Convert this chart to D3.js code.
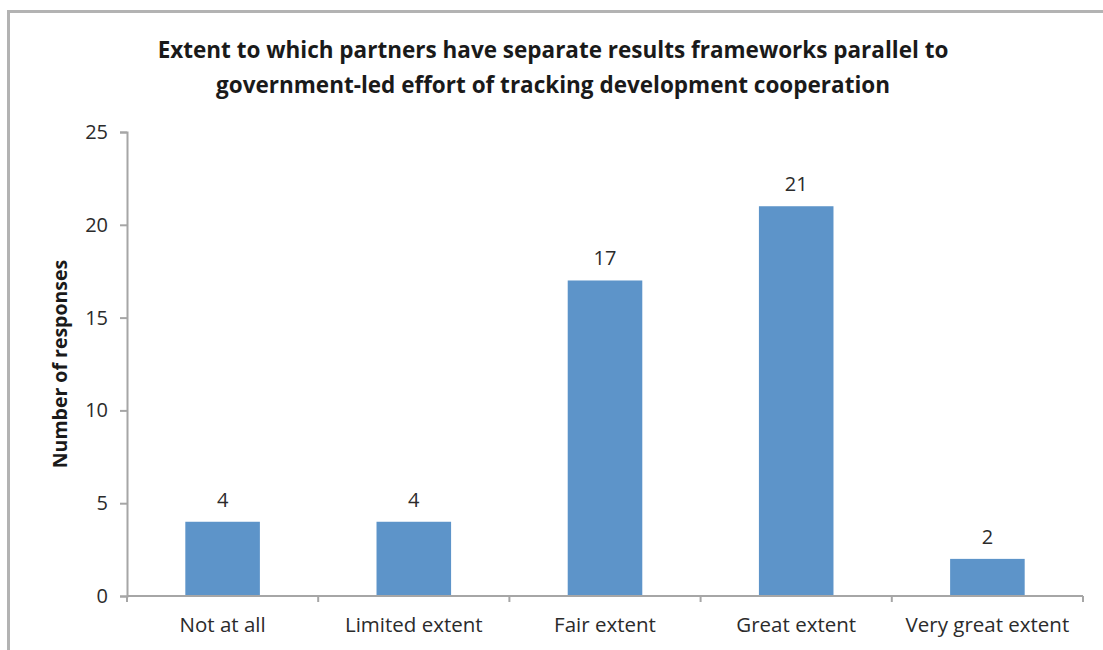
<!DOCTYPE html>
<html lang="en">
<head>
    <meta charset="UTF-8">
    <title>Extent of parallel results frameworks</title>
    <style>
        body, html {
            margin: 0;
            padding: 0;
            background: #fff;
            font-family: "Open Sans", "Noto Sans", sans-serif;
        }
        #chart { width: 1103px; height: 650px; }
    </style>
    <script src="https://d3js.org/d3.v7.min.js"></script>
</head>
<body>
    <div id="chart"></div>
    <script>
        const categories = ["Not at all", "Limited extent", "Fair extent", "Great extent", "Very great extent"];
        const responses = [4, 4, 17, 21, 2];
        const yTicks = [0, 5, 10, 15, 20, 25];
        const titleLines = [
            "Extent to which partners have separate results frameworks parallel to",
            "government-led effort of tracking development cooperation"
        ];
        const yLabel = "Number of responses";

        const W = 1103, H = 650;
        const margin = { top: 132, right: 20, bottom: 54, left: 127 };
        const width = W - margin.left - margin.right,
              height = H - margin.top - margin.bottom;

        const root = d3.select("#chart").append("svg")
            .attr("width", W)
            .attr("height", H);

        // chart frame (top and left edges visible in the original)
        root.append("path")
            .attr("d", `M8.5,${H} V11.5 H${W}`)
            .attr("fill", "none")
            .attr("stroke", "#b3b3b3")
            .attr("stroke-width", 3);

        root.append("text")
            .attr("x", 553)
            .attr("text-anchor", "middle")
            .style("font-weight", "bold")
            .style("font-size", "22.5px")
            .style("fill", "#1a1a1a")
            .selectAll("tspan")
            .data(titleLines)
            .enter()
            .append("tspan")
            .attr("x", 553)
            .attr("y", (d, i) => 58 + i * 35)
            .text(d => d);

        const svg = root.append("g")
            .attr("transform", `translate(${margin.left},${margin.top})`);

        const x = d3.scaleBand()
            .domain(categories)
            .range([0, width])
            .paddingInner(0.61)
            .paddingOuter(0.305);

        const y = d3.scaleLinear()
            .domain([0, 25])
            .range([height, 0]);

        svg.selectAll("rect.bar")
            .data(responses)
            .enter()
            .append("rect")
            .attr("class", "bar")
            .attr("x", (d, i) => x(categories[i]))
            .attr("y", d => y(d))
            .attr("width", x.bandwidth())
            .attr("height", d => height - y(d))
            .style("fill", "#5d94c9");

        svg.selectAll("text.val")
            .data(responses)
            .enter()
            .append("text")
            .attr("class", "val")
            .attr("x", (d, i) => x(categories[i]) + x.bandwidth() / 2)
            .attr("y", d => y(d) - 15)
            .attr("text-anchor", "middle")
            .style("font-size", "20px")
            .style("fill", "#2b2b2b")
            .text(d => d);

        // y axis
        const yAxis = svg.append("g")
            .call(d3.axisLeft(y).tickValues(yTicks).tickSize(7).tickPadding(12));
        yAxis.selectAll("text").style("font-size", "20px").style("fill", "#2b2b2b")
            .style("font-family", "'Open Sans', sans-serif");

        // x axis with ticks at category boundaries
        const xAxis = svg.append("g")
            .attr("transform", `translate(0,${height})`)
            .call(d3.axisBottom(x).tickSize(0).tickPadding(21));
        xAxis.selectAll("text").style("font-size", "20.5px").style("fill", "#2b2b2b")
            .style("font-family", "'Open Sans', sans-serif");
        xAxis.select(".domain").remove();
        xAxis.append("line")
            .attr("x1", 0).attr("x2", width)
            .attr("y1", 0).attr("y2", 0);
        const step = x.step();
        const bounds = d3.range(categories.length + 1).map(i => i * step);
        xAxis.selectAll("line.bound")
            .data(bounds)
            .enter()
            .append("line")
            .attr("class", "bound")
            .attr("x1", d => d).attr("x2", d => d)
            .attr("y1", 0).attr("y2", 6);

        root.selectAll(".domain, .tick line, line")
            .attr("stroke", "#a6a6a6")
            .attr("stroke-width", 2);

        root.append("text")
            .attr("transform", `translate(67,${margin.top + height / 2}) rotate(-90)`)
            .attr("text-anchor", "middle")
            .style("font-weight", "bold")
            .style("font-size", "19.5px")
            .style("fill", "#1a1a1a")
            .text(yLabel);
    </script>
</body>
</html>
